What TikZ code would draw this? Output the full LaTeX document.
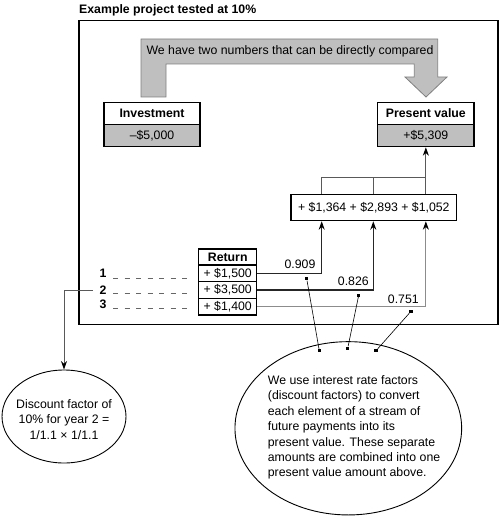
\documentclass[tikz,border=0pt]{standalone}
\usepackage{fontspec}
\setmainfont{Liberation Sans}
\usetikzlibrary{shapes.geometric,arrows.meta}

\begin{document}
\begin{tikzpicture}[x=1pt,y=-1pt,
  txt/.style={font=\fontsize{12.3}{15.4}\selectfont, inner sep=0pt},
  btxt/.style={font=\fontsize{12.3}{15.4}\selectfont\bfseries, inner sep=0pt},
  hdr/.style={btxt, draw=black, line width=1.1pt, fill=white},
  valbox/.style={txt, draw=black, line width=1.1pt, fill=black!25},
  cell/.style={txt, draw=black, line width=1.1pt, fill=white,
    minimum width=58pt, minimum height=16.67pt},
  conn/.style={draw=black!65, line width=0.9pt},
  arr/.style={conn, -{Stealth[length=8.5pt,width=6pt,color=black]}},
  dashline/.style={draw=black!60, line width=0.8pt, dash pattern=on 5pt off 6.5pt},
  sq/.style={fill=black, minimum size=3.4pt, inner sep=0pt},
  bubble/.style={draw=black, line width=0.9pt, ellipse, inner sep=0pt},
  lbl/.style={btxt, inner xsep=6.5pt}
]
\useasboundingbox (0,0) rectangle (500,516);

% heading and frame
\node[btxt, anchor=base west] (title) at (79,13.8) {Example project tested at 10\%};
\draw[line width=1.3pt] (79,20.5) rectangle (498,324.5);

% bent grey arrow linking the two values
\draw[fill=black!25, draw=black!50, line width=0.8pt]
  (141,97) -- (141,39) -- (437.7,39) -- (437.7,77) -- (447,77) -- (426,97)
  -- (405,77) -- (414.3,77) -- (414.3,64) -- (166,64) -- (166,97) -- cycle;
\node[txt] (cmp) at (290,51.5) {We have two numbers that can be directly compared};

% investment and present value boxes
\node[hdr, minimum width=96pt, minimum height=21.6pt] (invh) at (152,113.5) {Investment};
\node[valbox, minimum width=96pt, minimum height=22.4pt] (invv) at (152,135.5) {–\$5,000};
\node[hdr, minimum width=96.3pt, minimum height=21.6pt] (pvh) at (425.85,113.5) {Present value};
\node[valbox, minimum width=96.3pt, minimum height=22.4pt] (pvv) at (425.85,135.5) {+\$5,309};

% sum of discounted returns
\node[txt, draw=black, line width=1.1pt, minimum width=165.7pt, minimum height=26.4pt]
  (sum) at (373.85,207.5) {+ \$1,364 + \$2,893 + \$1,052};

\coordinate (a1) at (321.7,0);
\coordinate (a2) at (373.3,0);
\coordinate (a3) at (425.85,0);
\coordinate (brk) at (425.85,177.3);

\draw[conn] (a1 |- sum.north) |- (brk);
\draw[conn] (a2 |- sum.north) -- (a2 |- brk);
\draw[conn] (a3 |- sum.north) -- (brk);
\draw[arr] (brk) -- (pvv.south);

% return table
\node[cell, btxt, minimum height=16pt] (rh) at (227.7,257) {Return};
\node[cell] (r1) at (227.7,273.3) {+ \$1,500};
\node[cell] (r2) at (227.7,290) {+ \$3,500};
\node[cell] (r3) at (227.7,306.7) {+ \$1,400};

% year labels
\node[lbl] (l1) at (103,273.3) {1};
\node[lbl] (l2) at (103,290) {2};
\node[lbl] (l3) at (103,304) {3};
\draw[dashline] ([yshift=-5pt]l1.east) -- ([yshift=-5pt]l1.east -| r1.west) [shorten >=6.5pt];
\draw[dashline] ([yshift=-3pt]l2.east) -- ([yshift=-3pt]l2.east -| r2.west) [shorten >=6.5pt];
\draw[dashline] ([yshift=-4.5pt]l3.east) -- ([yshift=-4.5pt]l3.east -| r3.west) [shorten >=6.5pt];

% discounting each return
\draw[arr, draw=black!85] (r1.east) -| (a1 |- sum.south);
\draw[arr, draw=black!85, line width=1.1pt] (r2.east) -| (a2 |- sum.south);
\draw[arr, draw=black!45] (r3.east) -| (a3 |- sum.south);

\node[txt] (f1) at (300,264.3) {0.909};
\node[txt] (f2) at (353.3,281.7) {0.826};
\node[txt] (f3) at (403.3,299.3) {0.751};

% explanation bubbles
\node[bubble, minimum width=124pt, minimum height=93pt] (dfe) at (64,416.5) {};
\node[txt, align=center] (dft) at (64,419.5) {Discount factor of\\10\% for year 2 =\\1/1.1 × 1/1.1};
\draw[arr] (l2.west) -| (dfe.north);

\node[bubble, minimum width=226.7pt, minimum height=173.3pt] (bige) at (348.3,428.3) {};
\node[txt, align=left, anchor=west] (bigt) at (267.7,427.5)
  {We use interest rate factors\\(discount factors) to convert\\each element of a stream of\\future payments into its\\present value. These separate\\amounts are combined into one\\present value amount above.};

\node[sq] (s1) at (306.7,278.7) {};
\node[sq] (s2) at (358.7,295.3) {};
\node[sq] (s3) at (411,311.3) {};
\node[sq] (e1) at (319.3,350.7) {};
\node[sq] (e2) at (347.7,348.3) {};
\node[sq] (e3) at (376,350.7) {};
\draw[line width=0.6pt] (s1) -- (e1);
\draw[line width=0.6pt] (s2) -- (e2);
\draw[line width=0.6pt] (s3) -- (e3);
\end{tikzpicture}
\end{document}
